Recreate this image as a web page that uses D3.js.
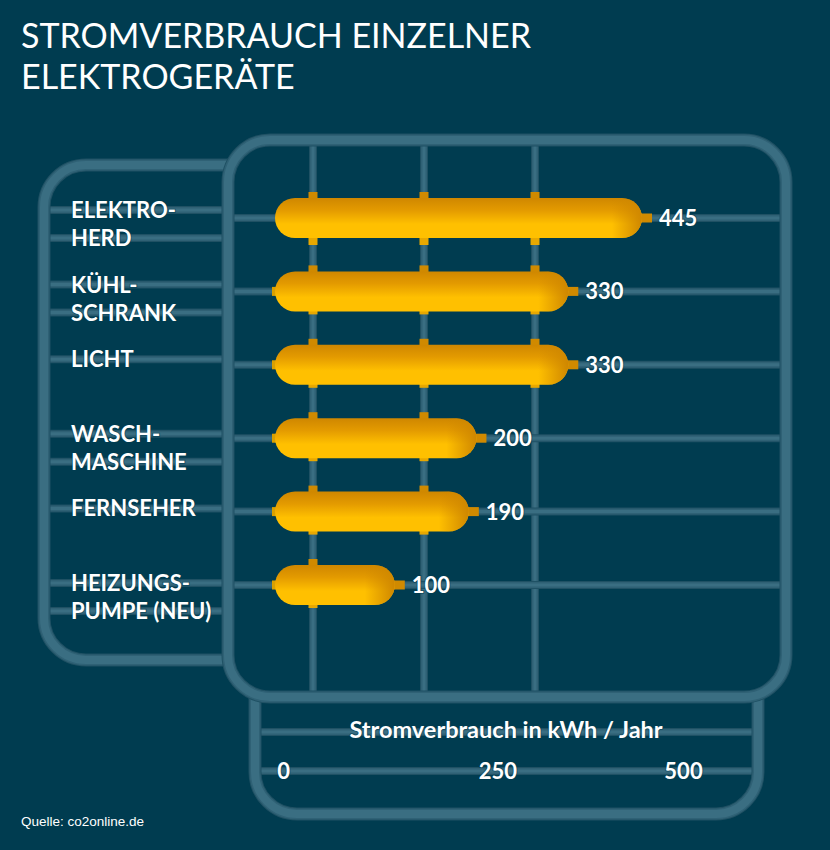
<!DOCTYPE html>
<html>
<head>
<meta charset="utf-8">
<script src="https://cdn.jsdelivr.net/npm/d3@7"></script>
<style>
  html, body { margin: 0; padding: 0; background: #003c50; }
  svg { display: block; }
  text { font-family: Lato, sans-serif; fill: #fff; }
  .lbl { font-size: 22px; font-weight: 700; paint-order: stroke; stroke: #003c50; stroke-opacity: .55; stroke-width: 2px; }
</style>
</head>
<body>
<script>
var titleLines = ["STROMVERBRAUCH EINZELNER", "ELEKTROGERÄTE"];
var categories = ["ELEKTROHERD", "KÜHLSCHRANK", "LICHT", "WASCHMASCHINE", "FERNSEHER", "HEIZUNGSPUMPE"];
var labelLines = [["ELEKTRO-", "HERD"], ["KÜHL-", "SCHRANK"], ["LICHT"], ["WASCH-", "MASCHINE"], ["FERNSEHER"], ["HEIZUNGS-", "PUMPE (NEU)"]];
var values = [445, 330, 330, 200, 190, 100];
var axisTicks = [0, 250, 500];
var gridSteps = [0, 1, 2];
var axisTitle = "Stromverbrauch in kWh / Jahr";
var source = "Quelle: co2online.de";

var W = 830, H = 850;
var svg = d3.select("body").append("svg").attr("width", W).attr("height", H);
svg.append("rect").attr("width", W).attr("height", H).attr("fill", "#003c50");

// the bars in the picture are not proportional to their labels, a pow scale comes closest
var x = d3.scalePow().exponent(0.75).domain([0, 445]).range([275, 642]);
var y = d3.scalePoint().domain(categories).range([218, 585]);
var yLabel = d3.scalePoint().domain(categories).range([210, 583]);
var xGrid = d3.scaleLinear().domain([0, 2]).range([313, 535]);
var xAxis = d3.scalePow().exponent(0.9).domain([0, 500]).range([283, 683]);

function pipe(d, w) {
  [[w + 1, "#1f5164"], [w - 1, "#2f6175"], [w - 4, "#3a6e82"]].forEach(function (s) {
    svg.append("path").attr("d", d).attr("fill", "none")
      .attr("stroke", s[1]).attr("stroke-width", s[0]);
  });
}

// thin pipes first, frames go over them
gridSteps.forEach(function (g) {
  pipe("M" + xGrid(g) + ",146V692", 7);
});
categories.forEach(function (c) {
  pipe("M234," + y(c) + "H780", 7);
});
labelLines.forEach(function (lines, i) {
  lines.forEach(function (l, j) {
    var yy = yLabel(categories[i]) + j * 28;
    pipe("M50," + yy + "H223", 7);
  });
});
pipe("M261,732H753", 7);
pipe("M261,771H753", 7);

// frames
pipe("M228,165H86A42,42 0 0 0 44,207V618A42,42 0 0 0 86,660H228", 12);
pipe("M255,697V772A42,42 0 0 0 297,814H716A42,42 0 0 0 758,772V697", 12);
pipe("M270,140H744A42,42 0 0 1 786,182V655A42,42 0 0 1 744,697H270A42,42 0 0 1 228,655V182A42,42 0 0 1 270,140Z", 12);

var defs = svg.append("defs");
var vg = defs.append("linearGradient").attr("id", "barV").attr("x1", 0).attr("x2", 0).attr("y1", 0).attr("y2", 1);
[[0, "#cf8700"], [0.3, "#e39a00"], [0.65, "#ffc000"], [1, "#ffc000"]].forEach(function (s) {
  vg.append("stop").attr("offset", s[0]).attr("stop-color", s[1]);
});

var rows = svg.selectAll("g.row").data(categories).join("g").attr("class", "row");

// stubs where pipes enter a bar
rows.each(function (c, i) {
  var g = d3.select(this);
  var end = x(values[i]);
  gridSteps.filter(function (s) { return xGrid(s) < end; }).forEach(function (s) {
    g.append("rect").attr("x", xGrid(s) - 4.5).attr("y", y(c) - 26).attr("width", 9).attr("height", 10).attr("fill", "#d08a00");
    g.append("rect").attr("x", xGrid(s) - 4.5).attr("y", y(c) + 15).attr("width", 9).attr("height", i === 0 ? 12 : 8).attr("fill", "#e8a800");
  });
  if (i > 0) g.append("rect").attr("x", 272).attr("y", y(c) - 4.5).attr("width", 10).attr("height", 9).attr("fill", "#d9a000");
  g.append("rect").attr("x", end - 10).attr("y", y(c) - 4.5).attr("width", 20).attr("height", 9).attr("fill", "#d08a00");
});

rows.append("rect")
  .attr("x", x(0))
  .attr("y", function (c) { return y(c) - 20; })
  .attr("width", function (c, i) { return x(values[i]) - x(0); })
  .attr("height", 40)
  .attr("rx", 20)
  .attr("fill", "url(#barV)");

// darker right cap
rows.each(function (c, i) {
  var w = x(values[i]) - x(0);
  var id = "cap" + i;
  var hg = defs.append("linearGradient").attr("id", id).attr("x1", (w - 30) / w).attr("x2", 1).attr("y1", 0).attr("y2", 0);
  hg.append("stop").attr("offset", 0).attr("stop-color", "#cf8700").attr("stop-opacity", 0);
  hg.append("stop").attr("offset", 1).attr("stop-color", "#cf8700").attr("stop-opacity", 1);
  d3.select(this).append("rect")
    .attr("x", x(0)).attr("y", y(c) - 20).attr("width", w).attr("height", 40).attr("rx", 20)
    .attr("fill", "url(#" + id + ")");
});

rows.append("text").attr("class", "lbl")
  .attr("x", function (c, i) { return x(values[i]) + 17; })
  .attr("y", function (c) { return y(c) + 8; })
  .text(function (c, i) { return values[i]; });

labelLines.forEach(function (lines, i) {
  lines.forEach(function (l, j) {
    svg.append("text").attr("class", "lbl").attr("x", 71)
      .attr("y", yLabel(categories[i]) + j * 28 + 8).text(l);
  });
});

// axis
var axisG = svg.append("g").attr("transform", "translate(0,771)")
  .call(d3.axisBottom(xAxis).tickValues(axisTicks).tickSize(0).tickPadding(0).tickFormat(d3.format("d")));
axisG.select(".domain").remove();
axisG.selectAll("text").attr("class", "lbl").attr("dy", 8).attr("y", 0).style("font-family", "Lato, sans-serif");

svg.append("text").attr("class", "lbl").attr("x", 506).attr("y", 738).attr("text-anchor", "middle")
  .style("font-size", "23.5px").text(axisTitle);

svg.selectAll("text.title").data(titleLines).join("text").attr("class", "title")
  .attr("x", 21).attr("y", function (d, i) { return 48 + i * 41; })
  .style("font-size", "34px").text(function (d) { return d; });

svg.append("text").attr("x", 21).attr("y", 826)
  .style("font-family", "'Liberation Sans', Arial, sans-serif").style("font-size", "13.5px").text(source);
</script>
</body>
</html>
